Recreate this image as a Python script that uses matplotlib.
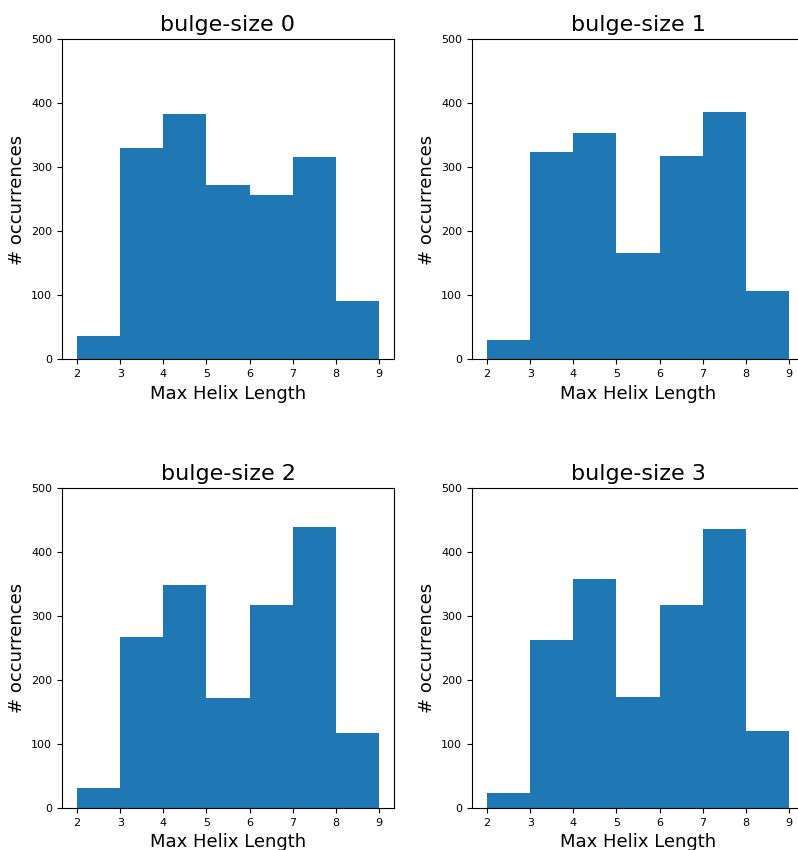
import matplotlib
matplotlib.use("Agg")
import matplotlib.pyplot as plt

# histogram bin edges (max helix length)
bins = [2, 3, 4, 5, 6, 7, 8, 9]

# counts per bin
counts_bulge0 = [36, 331, 384, 273, 257, 317, 91]
counts_bulge1 = [31, 324, 354, 166, 318, 386, 107]
counts_bulge2 = [31, 267, 348, 172, 317, 439, 117]
counts_bulge3 = [23, 263, 358, 173, 317, 436, 120]

titles = ["bulge-size 0", "bulge-size 1", "bulge-size 2", "bulge-size 3"]
all_counts = [counts_bulge0, counts_bulge1, counts_bulge2, counts_bulge3]

W, H = 798, 850
fig = plt.figure(figsize=(W / 100, H / 100), dpi=100)

# axes boxes in pixels: (left, top, right, bottom)
boxes = [(62, 39.5, 394, 359.5), (472, 39.5, 804, 359.5),
         (62, 488, 394, 808), (472, 488, 804, 808)]

for (l, t, r, b), title, counts in zip(boxes, titles, all_counts):
    ax = fig.add_axes([l / W, 1 - b / H, (r - l) / W, (b - t) / H])
    ax.hist(bins[:-1], bins=bins, weights=counts, color="#1f77b4")
    ax.set_ylim(0, 500)
    ax.set_yticks([0, 100, 200, 300, 400, 500])
    ax.set_xticks(bins)
    ax.tick_params(labelsize=8, length=3.5, width=0.8)
    ax.set_title(title, fontsize=16)
    ax.set_xlabel("Max Helix Length", fontsize=13)
    ax.set_ylabel("# occurrences", fontsize=13)
    for s in ax.spines.values():
        s.set_linewidth(0.8)

fig.savefig("out.png", dpi=100)
